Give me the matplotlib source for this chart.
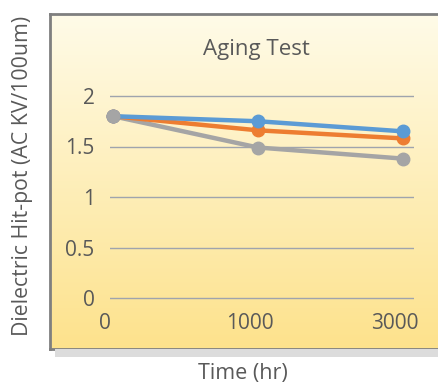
import numpy as np
import matplotlib.pyplot as plt
from matplotlib.patches import Rectangle
from matplotlib.transforms import ScaledTranslation

# data
time_labels = ["0", "1000", "3000"]
blue_vals = [1.80, 1.75, 1.65]
orange_vals = [1.80, 1.66, 1.58]
gray_vals = [1.80, 1.49, 1.38]
y_ticks = [0, 0.5, 1, 1.5, 2]
y_labels = ["0", "0.5", "1", "1.5", "2"]

W, H = 438, 385
plt.rcParams['font.family'] = ['Open Sans', 'DejaVu Sans']
txt = '#595959'

fig = plt.figure(figsize=(W / 100, H / 100), dpi=100)

# shadow under the box
fig.patches.append(Rectangle((55 / W, 1 - 357 / H), 1, 8 / H, transform=fig.transFigure,
                             facecolor='#dcdcdc', edgecolor='none', zorder=0))

# box with yellow gradient (cut off at the right edge)
bg = fig.add_axes([50 / W, 1 - 349 / H, (W - 50) / W, (349 - 14) / H])
grad = np.linspace(0, 1, 256).reshape(-1, 1)
top = np.array([255, 251, 232]) / 255
bot = np.array([253, 226, 140]) / 255
img = top + (bot - top) * grad[:, :, None]
bg.imshow(img, aspect='auto', extent=[0, 1, 0, 1])
bg.set_xticks([])
bg.set_yticks([])
for s in bg.spines.values():
    s.set_color('#7f7f7f')
    s.set_linewidth(2)
bg.spines['right'].set_visible(False)

# plot area
x0, x1 = 110, 414
y_top, y_bot = 96, 298
pad = 0.02
ppu = (y_bot - y_top) / 2
ax = fig.add_axes([x0 / W, 1 - (y_bot + pad * ppu) / H, (x1 - x0) / W, (y_bot - y_top + 2 * pad * ppu) / H])
ax.set_facecolor('none')
ax.set_zorder(2)
x = np.arange(len(time_labels))
for vals, c, z in [(gray_vals, '#a5a5a5', 3), (orange_vals, '#ed7d31', 4), (blue_vals, '#5b9bd5', 5)]:
    ax.plot(x, vals, color=c, lw=3.2, marker='o', ms=9, zorder=z, clip_on=False)
# gray marker sits on top at the first point
ax.plot(x[:1], gray_vals[:1], 'o', color='#a5a5a5', ms=9, zorder=6, clip_on=False)

unit = 145
ax.set_xlim(-(113 - x0) / unit, (x1 - 113) / unit)
ax.set_ylim(-pad, 2 + pad)
ax.set_yticks(y_ticks)
ax.set_yticklabels(y_labels)
ax.set_xticks(x)
ax.set_xticklabels(time_labels)
ax.grid(axis='y', color='#9fa4ad', lw=1)
ax.set_axisbelow(True)
for s in ax.spines.values():
    s.set_visible(False)
ax.tick_params(length=0, labelsize=15, colors=txt)
ax.tick_params(axis='y', pad=11)
ax.tick_params(axis='x', pad=9)
for lab in ax.get_xticklabels():
    lab.set_transform(lab.get_transform() + ScaledTranslation(-0.08, 0, fig.dpi_scale_trans))

fig.text(256 / W, 1 - 50 / H, "Aging Test", ha='center', va='center', fontsize=16, color=txt)
fig.text(243 / W, 1 - 373 / H, "Time (hr)", ha='center', va='center', fontsize=15.5, color=txt)
fig.text(23 / W, 1 - 176 / H, "Dielectric Hit-pot (AC KV/100um)", rotation=90,
         ha='center', va='center', fontsize=15.3, color=txt)

fig.savefig('out.png', dpi=100)
